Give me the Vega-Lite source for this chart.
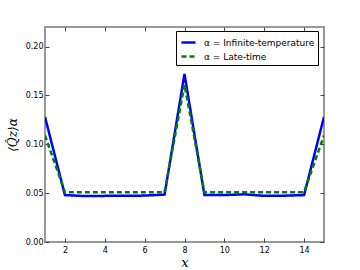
{
  "$schema": "https://vega.github.io/schema/vega-lite/v6.json",
  "width": 279,
  "height": 215,
  "autosize": {"type": "none"},
  "padding": {"left": 45, "top": 27, "right": 36, "bottom": 28},
  "background": "white",
  "config": {
    "view": {"stroke": "#999999", "strokeWidth": 2},
    "font": "DejaVu Sans",
    "axis": {"grid": false, "domain": false, "tickColor": "#444", "tickSize": -4, "labelFontSize": 8, "labelColor": "#000", "labelFont": "DejaVu Sans"}
  },
  "data": {
    "values": [
      {"x": 1, "v": 0.128, "s": "α = Infinite-temperature"},
      {"x": 2, "v": 0.048, "s": "α = Infinite-temperature"},
      {"x": 3, "v": 0.047, "s": "α = Infinite-temperature"},
      {"x": 4, "v": 0.0472, "s": "α = Infinite-temperature"},
      {"x": 5, "v": 0.0472, "s": "α = Infinite-temperature"},
      {"x": 6, "v": 0.0475, "s": "α = Infinite-temperature"},
      {"x": 7, "v": 0.0485, "s": "α = Infinite-temperature"},
      {"x": 8, "v": 0.172, "s": "α = Infinite-temperature"},
      {"x": 9, "v": 0.048, "s": "α = Infinite-temperature"},
      {"x": 10, "v": 0.048, "s": "α = Infinite-temperature"},
      {"x": 11, "v": 0.0488, "s": "α = Infinite-temperature"},
      {"x": 12, "v": 0.0472, "s": "α = Infinite-temperature"},
      {"x": 13, "v": 0.0474, "s": "α = Infinite-temperature"},
      {"x": 14, "v": 0.048, "s": "α = Infinite-temperature"},
      {"x": 15, "v": 0.128, "s": "α = Infinite-temperature"},
      {"x": 1, "v": 0.109, "s": "α = Late-time"},
      {"x": 2, "v": 0.051, "s": "α = Late-time"},
      {"x": 3, "v": 0.051, "s": "α = Late-time"},
      {"x": 4, "v": 0.051, "s": "α = Late-time"},
      {"x": 5, "v": 0.051, "s": "α = Late-time"},
      {"x": 6, "v": 0.051, "s": "α = Late-time"},
      {"x": 7, "v": 0.051, "s": "α = Late-time"},
      {"x": 8, "v": 0.161, "s": "α = Late-time"},
      {"x": 9, "v": 0.051, "s": "α = Late-time"},
      {"x": 10, "v": 0.051, "s": "α = Late-time"},
      {"x": 11, "v": 0.051, "s": "α = Late-time"},
      {"x": 12, "v": 0.051, "s": "α = Late-time"},
      {"x": 13, "v": 0.051, "s": "α = Late-time"},
      {"x": 14, "v": 0.051, "s": "α = Late-time"},
      {"x": 15, "v": 0.109, "s": "α = Late-time"}
    ]
  },
  "resolve": {"axis": {"x": "independent", "y": "independent"}},
  "layer": [
    {
      "mark": {"type": "line", "strokeWidth": 2.5, "clip": true},
      "encoding": {
        "x": {"field": "x", "type": "quantitative", "scale": {"domain": [1, 15], "nice": false, "zero": false},
          "axis": {"orient": "bottom", "values": [2, 4, 6, 8, 10, 12, 14], "labelPadding": 8, "title": "x", "titleFontSize": 13, "titleFontStyle": "italic", "titleFontWeight": "normal", "titleFont": "DejaVu Serif", "titlePadding": 2}},
        "y": {"field": "v", "type": "quantitative", "scale": {"domain": [0, 0.22], "nice": false},
          "axis": {"orient": "left", "values": [0, 0.05, 0.1, 0.15, 0.2], "format": ".2f", "labelPadding": 6, "title": "⟨Q̂z⟩α", "titleFontSize": 12, "titleFontStyle": "italic", "titleFontWeight": "normal", "titleFont": "DejaVu Serif", "titlePadding": 6}},
        "color": {"field": "s", "type": "nominal", "scale": {"range": ["#0000ff", "#008000"]},
          "legend": {"title": null, "orient": "none", "legendX": 131, "legendY": 4, "symbolType": "stroke", "symbolSize": 196, "symbolStrokeWidth": 2.5, "labelFontSize": 9, "labelFont": "DejaVu Sans", "labelOffset": 7, "strokeColor": "#000", "fillColor": "#fff", "padding": 3, "rowPadding": 0, "symbolOffset": 1}},
        "strokeDash": {"field": "s", "type": "nominal", "scale": {"range": [[1, 0], [5, 3]]}, "legend": null}
      }
    },
    {
      "mark": {"type": "line", "opacity": 0},
      "encoding": {
        "x": {"field": "x", "type": "quantitative", "scale": {"domain": [1, 15], "nice": false, "zero": false},
          "axis": {"orient": "top", "values": [2, 4, 6, 8, 10, 12, 14], "labels": false, "title": null}},
        "y": {"field": "v", "type": "quantitative", "scale": {"domain": [0, 0.22], "nice": false},
          "axis": {"orient": "right", "values": [0, 0.05, 0.1, 0.15, 0.2], "labels": false, "title": null}}
      }
    }
  ]
}
